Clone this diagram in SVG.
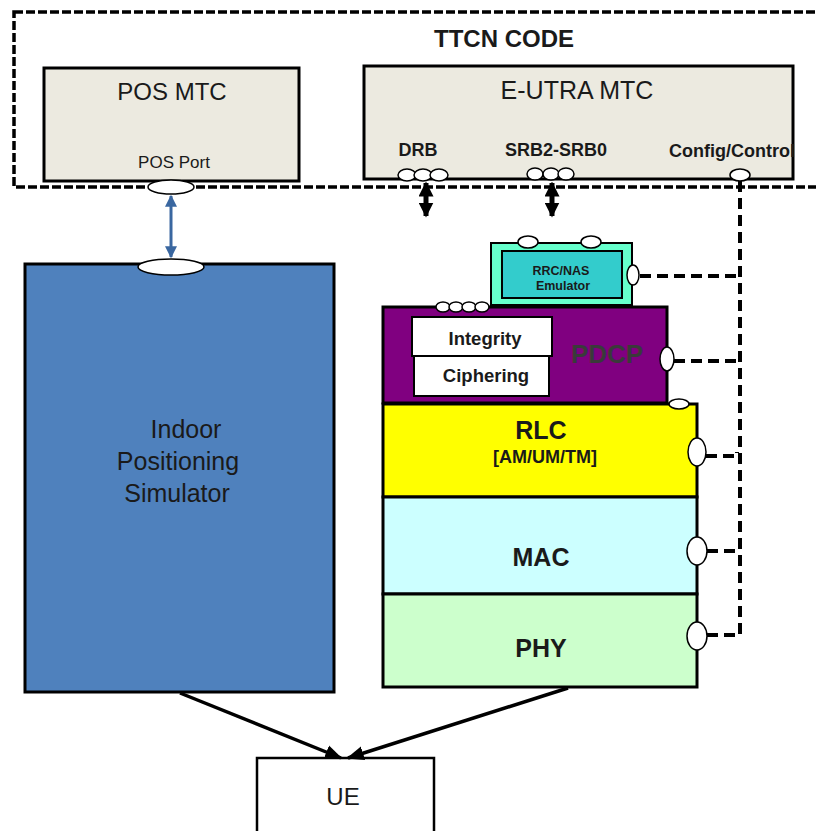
<svg xmlns="http://www.w3.org/2000/svg" width="816" height="831" viewBox="0 0 816 831">
<defs>
<style>
.t{font-family:"Liberation Sans",Arial,sans-serif;fill:#1a1a1a;text-anchor:middle}
.b{font-weight:bold}
.box{stroke:#000;stroke-width:3}
.port{fill:#fff;stroke:#000;stroke-width:1.5}
.dash{fill:none;stroke:#000;stroke-width:4;stroke-dasharray:11 6}
</style>
<marker id="ab" viewBox="0 0 10 10" refX="9" refY="5" markerWidth="3" markerHeight="3" orient="auto-start-reverse"><path d="M0,0L10,5L0,10z" fill="#000"/></marker>
<marker id="abl" viewBox="0 0 10 10" refX="9" refY="5" markerWidth="4" markerHeight="4" orient="auto-start-reverse"><path d="M0,0L10,5L0,10z" fill="#3a67a0"/></marker>
<marker id="au" viewBox="0 0 10 10" refX="9" refY="5" markerWidth="5" markerHeight="5" orient="auto"><path d="M0,1L10,5L0,9z" fill="#000"/></marker>
</defs>
<rect width="816" height="831" fill="#fff"/>

<g id="ttcn">
<rect x="14" y="12" width="830" height="175" fill="none" stroke="#000" stroke-width="3.5" stroke-dasharray="9 3"/>
<text class="t b" x="504" y="47" font-size="24">TTCN CODE</text>
</g>

<g id="pos-mtc">
<rect class="box" x="44" y="68" width="255" height="113" fill="#eceae0"/>
<text class="t" x="172" y="100" font-size="24">POS MTC</text>
<text class="t" x="174" y="168" font-size="17">POS Port</text>
<ellipse class="port" cx="171" cy="187" rx="23" ry="7"/>
</g>

<g id="eutra-mtc">
<rect class="box" x="364" y="66" width="429" height="113" fill="#eceae0"/>
<text class="t" x="577" y="99" font-size="25">E-UTRA MTC</text>
<text class="t b" x="418" y="156" font-size="18">DRB</text>
<text class="t b" x="556" y="156" font-size="18">SRB2-SRB0</text>
<text class="t b" x="732" y="157" font-size="18">Config/Control</text>
<ellipse class="port" cx="407" cy="175" rx="9" ry="6"/>
<ellipse class="port" cx="423" cy="175" rx="9" ry="6"/>
<ellipse class="port" cx="439" cy="175" rx="9" ry="6"/>
<ellipse class="port" cx="535" cy="174" rx="8" ry="6"/>
<ellipse class="port" cx="551" cy="174" rx="8" ry="6"/>
<ellipse class="port" cx="566" cy="174" rx="8" ry="6"/>
<ellipse class="port" cx="740" cy="175" rx="10" ry="6"/>
</g>

<g id="indoor-sim">
<rect class="box" x="25" y="264" width="309" height="428" fill="#4f81bd"/>
<ellipse class="port" cx="171" cy="267" rx="33" ry="8"/>
<text class="t" x="186" y="438" font-size="25">Indoor</text>
<text class="t" x="178" y="470" font-size="25">Positioning</text>
<text class="t" x="177" y="502" font-size="25">Simulator</text>
</g>

<g id="rrc-nas">
<rect x="491" y="243" width="141" height="62" fill="#66ffcc" stroke="#000" stroke-width="2"/>
<rect x="502" y="251" width="120" height="47" fill="#33cccc" stroke="#000" stroke-width="2"/>
<text class="t b" x="561" y="275" font-size="12.5">RRC/NAS</text>
<text class="t b" x="563" y="290" font-size="12.5">Emulator</text>
<ellipse class="port" cx="528" cy="242" rx="10" ry="6"/>
<ellipse class="port" cx="591" cy="242" rx="10" ry="6"/>
<ellipse class="port" cx="633" cy="275" rx="6" ry="10"/>
</g>

<g id="pdcp">
<rect class="box" x="383" y="307" width="284" height="96" fill="#800080"/>
<text class="t b" x="607" y="363" font-size="26" style="fill:#3a3a3a">PDCP</text>
<rect x="412" y="317" width="140" height="39" fill="#fff" stroke="#000" stroke-width="2"/>
<text class="t b" x="485" y="345" font-size="18.5">Integrity</text>
<rect x="414" y="356" width="135" height="40" fill="#fff" stroke="#000" stroke-width="2"/>
<text class="t b" x="486" y="382" font-size="18.5">Ciphering</text>
<ellipse class="port" cx="443" cy="307" rx="7" ry="5"/>
<ellipse class="port" cx="456" cy="307" rx="7" ry="5"/>
<ellipse class="port" cx="469" cy="307" rx="7" ry="5"/>
<ellipse class="port" cx="482" cy="307" rx="7" ry="5"/>
<ellipse class="port" cx="667" cy="359" rx="7" ry="12"/>
</g>

<g id="rlc">
<rect class="box" x="383" y="404" width="314" height="93" fill="#ffff00"/>
<text class="t b" x="541" y="439" font-size="25">RLC</text>
<text class="t b" x="545" y="463" font-size="18">[AM/UM/TM]</text>
<ellipse class="port" cx="679" cy="404" rx="10" ry="5"/>
<ellipse class="port" cx="697" cy="452" rx="9" ry="14"/>
</g>

<g id="mac">
<rect class="box" x="383" y="497" width="314" height="97" fill="#ccffff"/>
<text class="t b" x="541" y="566" font-size="25">MAC</text>
<ellipse class="port" cx="697" cy="551" rx="10" ry="14"/>
</g>

<g id="phy">
<rect class="box" x="383" y="594" width="314" height="93" fill="#ccffcc"/>
<text class="t b" x="541" y="657" font-size="25">PHY</text>
<ellipse class="port" cx="697" cy="636" rx="10" ry="14"/>
</g>

<g id="ue">
<rect x="257" y="758" width="177" height="80" fill="#fff" stroke="#000" stroke-width="2.5"/>
<text class="t" x="343" y="805" font-size="24">UE</text>
</g>

<g id="connectors">
<line x1="171" y1="196" x2="171" y2="257" stroke="#3a67a0" stroke-width="3" marker-start="url(#abl)" marker-end="url(#abl)"/>
<line x1="426" y1="183" x2="426" y2="216" stroke="#000" stroke-width="5" marker-start="url(#ab)" marker-end="url(#ab)"/>
<line x1="552" y1="183" x2="552" y2="216" stroke="#000" stroke-width="5" marker-start="url(#ab)" marker-end="url(#ab)"/>
<path class="dash" d="M740,181V635"/>
<path class="dash" d="M640,276H740"/>
<path class="dash" d="M674,361H740"/>
<path class="dash" d="M706,456H737V452"/>
<path class="dash" d="M707,551H737V555"/>
<path class="dash" d="M707,635H740"/>
<line x1="180" y1="693" x2="341" y2="758" stroke="#000" stroke-width="3.5" marker-end="url(#au)"/>
<line x1="568" y1="688" x2="348" y2="758" stroke="#000" stroke-width="3.5" marker-end="url(#au)"/>
</g>
</svg>
